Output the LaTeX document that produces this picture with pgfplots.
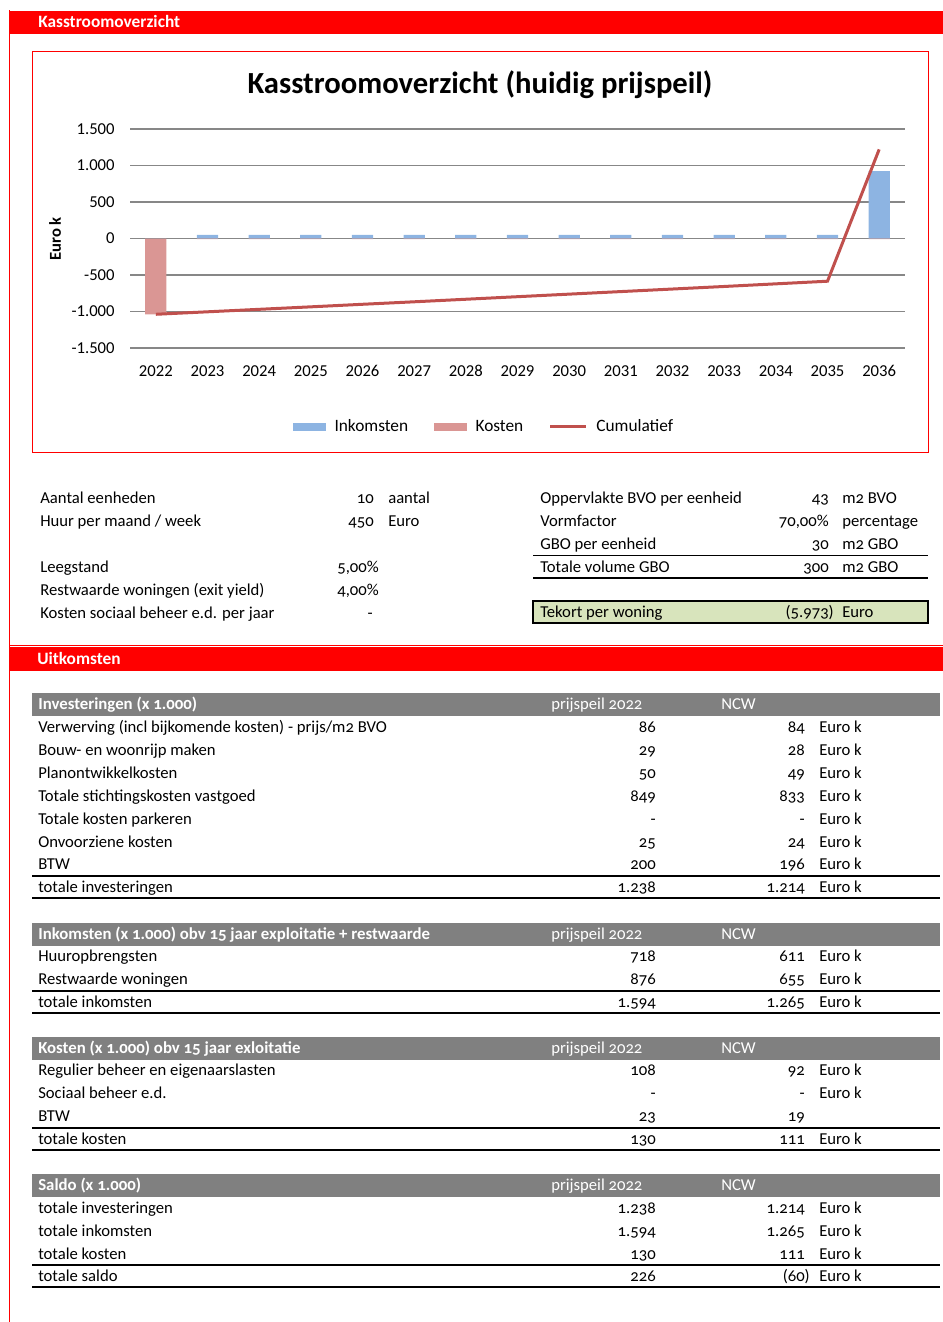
\documentclass[border=0pt]{standalone}
\usepackage{pgfplots}
\pgfplotsset{compat=1.18}
\usepackage{fontspec}
\setmainfont{Carlito}
\newfontfamily\tabfont{Carlito}[Numbers=OldStyle]

\definecolor{inkc}{RGB}{141,180,226}
\definecolor{kosc}{RGB}{218,150,148}
\definecolor{cumc}{RGB}{192,80,77}
\definecolor{hdr}{RGB}{128,128,128}
\definecolor{grn}{RGB}{216,228,188}
\definecolor{bred}{RGB}{255,0,0}

% text helpers, pixel coordinates (y down), y = row centre
\newcommand{\Lt}[3]{\node[anchor=base west,inner sep=0pt] at (#1,#2+5.5) {#3};}
\newcommand{\Rt}[3]{\node[anchor=base east,inner sep=0pt] at (#1,#2+5.5) {#3};}
\newcommand{\trow}[5]{\Lt{38}{#1}{#2}\Rt{656}{#1}{#3}\Rt{805}{#1}{#4}\Lt{819}{#1}{#5}}
\newcommand{\thead}[3]{%
  \fill[hdr] (32,#1-11) rectangle (940,#1+12);
  \node[anchor=base west,inner sep=0pt,text=white,font=\tabfont\bfseries\fontsize{12.6}{15}\selectfont] at (38,#1+5.5) {#2};
  \node[anchor=base west,inner sep=0pt,text=white] at (551,#1+5.5) {prijspeil 2022};
  \node[anchor=base west,inner sep=0pt,text=white] at (721,#1+5.5) {NCW};
  \draw[line width=1.5pt] (32,#3-11) -- (940,#3-11);
  \draw[line width=1.5pt] (32,#3+11) -- (940,#3+11);}

\begin{document}
\begin{tikzpicture}
\begin{scope}[x=0.75pt,y=-0.75pt]
\path[use as bounding box] (0,0) rectangle (943,1322);
% frame and banners
\draw[bred,line width=0.75pt] (9.5,10) -- (9.5,1322);
\fill[bred] (9,11) rectangle (943,34);
\node[anchor=base west,inner sep=0pt,text=white,font=\bfseries\fontsize{13}{15}\selectfont] at (38,27) {Kasstroomoverzicht};
\draw[bred,line width=0.75pt] (32,51) rectangle (928,452);
\draw[bred,line width=0.75pt] (9,645) -- (943,645);
\fill[bred] (9,647) rectangle (943,671);
\node[anchor=base west,inner sep=0pt,text=white,font=\bfseries\fontsize{13}{15}\selectfont] at (37,664) {Uitkomsten};

% chart title and axis label
\node[font=\bfseries\fontsize{23}{27}\selectfont] at (480,85) {Kasstroomoverzicht (huidig prijspeil)};
\node[rotate=90,font=\bfseries\fontsize{12.5}{14}\selectfont] at (55,239) {Euro k};

% inputs
\begin{scope}[font=\tabfont\fontsize{12.5}{15}\selectfont]
\Lt{40}{498}{Aantal eenheden}\Rt{374}{498}{10}\Lt{388}{498}{aantal}
\Lt{40}{521}{Huur per maand / week}\Rt{374}{521}{450}\Lt{388}{521}{Euro}
\Lt{40}{567}{Leegstand}\Rt{379}{567}{5,00\%}
\Lt{40}{590}{Restwaarde woningen (exit yield)}\Rt{379}{590}{4,00\%}
\Lt{40}{613}{Kosten sociaal beheer e.d. per jaar}\Rt{373}{613}{-}

\Lt{540}{498}{Oppervlakte BVO per eenheid}\Rt{829}{498}{43}\Lt{842}{498}{m2 BVO}
\Lt{540}{521}{Vormfactor}\Rt{829}{521}{70,00\%}\Lt{842}{521}{percentage}
\Lt{540}{544}{GBO per eenheid}\Rt{829}{544}{30}\Lt{842}{544}{m2 GBO}
\draw[line width=0.75pt] (533,555) -- (928,555);
\Lt{540}{567}{Totale volume GBO}\Rt{829}{567}{300}\Lt{842}{567}{m2 GBO}
\draw[line width=1.5pt] (533,578) -- (928,578);
\filldraw[fill=grn,draw=black,line width=1.5pt] (533,601) rectangle (928,623);
\Lt{540}{612}{Tekort per woning}\Rt{829}{612}{(5.973\rlap{)}}\Lt{842}{612}{Euro}

% result tables
\thead{704}{Investeringen (x 1.000)}{887}
\trow{727}{Verwerving (incl bijkomende kosten) - prijs/m2 BVO}{86}{84}{Euro k}
\trow{750}{Bouw- en woonrijp maken}{29}{28}{Euro k}
\trow{773}{Planontwikkelkosten}{50}{49}{Euro k}
\trow{796}{Totale stichtingskosten vastgoed}{849}{833}{Euro k}
\trow{819}{Totale kosten parkeren}{-}{-}{Euro k}
\trow{842}{Onvoorziene kosten}{25}{24}{Euro k}
\trow{864}{BTW}{200}{196}{Euro k}
\trow{887}{totale investeringen}{1.238}{1.214}{Euro k}

\thead{934}{Inkomsten (x 1.000) obv 15 jaar exploitatie + restwaarde}{1002}
\trow{956}{Huuropbrengsten}{718}{611}{Euro k}
\trow{979}{Restwaarde woningen}{876}{655}{Euro k}
\trow{1002}{totale inkomsten}{1.594}{1.265}{Euro k}

\thead{1048}{Kosten (x 1.000) obv 15 jaar exloitatie}{1139}
\trow{1070}{Regulier beheer en eigenaarslasten}{108}{92}{Euro k}
\trow{1093}{Sociaal beheer e.d.}{-}{-}{Euro k}
\trow{1116}{BTW}{23}{19}{}
\trow{1139}{totale kosten}{130}{111}{Euro k}

\thead{1185}{Saldo (x 1.000)}{1276}
\trow{1208}{totale investeringen}{1.238}{1.214}{Euro k}
\trow{1231}{totale inkomsten}{1.594}{1.265}{Euro k}
\trow{1254}{totale kosten}{130}{111}{Euro k}
\trow{1276}{totale saldo}{226}{(60\rlap{)}}{Euro k}
\end{scope}
\end{scope}

\begin{axis}[
  at={(97.5pt,-261pt)}, anchor=south west,
  scale only axis, width=581.25pt, height=164.25pt,
  xmin=-0.5, xmax=14.5, ymin=-1500, ymax=1500,
  axis line style={draw=none},
  major tick length=0pt,
  ymajorgrids, grid style={draw=black!47, line width=0.9pt},
  xtick={0,...,14},
  xticklabels={2022,2023,2024,2025,2026,2027,2028,2029,2030,2031,2032,2033,2034,2035,2036},
  ytick={-1500,-1000,-500,0,500,1000,1500},
  tick label style={font=\fontsize{12.5}{15}\selectfont},
  yticklabel style={xshift=-8pt},
  xticklabel style={text height=8.5pt, text depth=0pt, yshift=-9.5pt},
  /pgf/number format/1000 sep={.},
  /pgf/number format/assume math mode=true,
  legend style={at={(0.457,-0.36)}, anchor=center, draw=none, fill=none,
    legend columns=-1, font=\fontsize{13}{15}\selectfont,
    /tikz/every odd column/.append style={column sep=4.5pt},
    /tikz/every even column/.append style={column sep=17pt}},
]
\addplot[ybar, bar width=0.41, bar shift=0pt, fill=inkc, draw=none,
  legend image code/.code={\fill[inkc] (0pt,-3pt) rectangle (25pt,3pt);}]
  coordinates {(0,0) (1,50) (2,50) (3,50) (4,50) (5,50) (6,50) (7,50)
    (8,50) (9,50) (10,50) (11,50) (12,50) (13,50) (14,924)};
\addlegendentry{Inkomsten}
\addplot[ybar, bar width=0.41, bar shift=0pt, fill=kosc, draw=none,
  legend image code/.code={\fill[kosc] (0pt,-3pt) rectangle (25pt,3pt);}]
  coordinates {(0,-1038) (1,-10) (2,-10) (3,-10) (4,-10) (5,-10) (6,-10) (7,-10)
    (8,-10) (9,-10) (10,-10) (11,-10) (12,-10) (13,-10) (14,-10)};
\addlegendentry{Kosten}
\addplot[cumc, line width=2.25pt, mark=none,
  legend image code/.code={\draw[cumc,line width=2.25pt] (0pt,0pt) -- (27pt,0pt);}]
  coordinates {(0,-1038) (1,-1004) (2,-970) (3,-936) (4,-901) (5,-867) (6,-832)
    (7,-797) (8,-762) (9,-727) (10,-692) (11,-657) (12,-621) (13,-585) (14,1221)};
\addlegendentry{Cumulatief}
\end{axis}
\end{tikzpicture}
\end{document}
